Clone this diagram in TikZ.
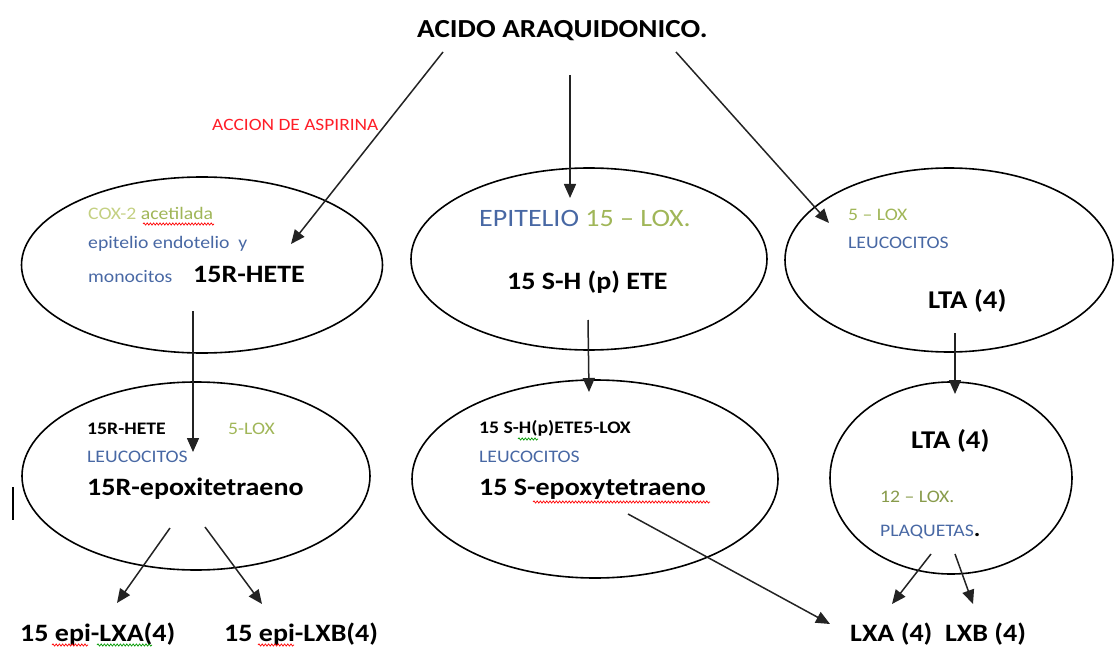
\documentclass[tikz,border=0pt]{standalone}
\usepackage{fontspec}
\setmainfont{Carlito}[FakeStretch=1.12]
\usetikzlibrary{shapes.geometric,arrows.meta,decorations.pathmorphing}
\definecolor{loxgreen}{RGB}{160,182,88}
\definecolor{paleg}{RGB}{196,208,130}
\definecolor{txtblue}{RGB}{72,104,164}
\definecolor{asred}{RGB}{255,30,40}
\definecolor{lncol}{RGB}{35,35,35}
\begin{document}
\begin{tikzpicture}[x=1pt,y=-1pt,
  ell/.style={draw=black,line width=1.6pt,ellipse,inner sep=0pt},
  arr/.style={draw=lncol,line width=1.5pt,-{Triangle[length=14pt,width=12pt]}},
  txt/.style={anchor=base west,inner sep=0pt},
  big/.style={txt,font=\fontsize{25}{28}\selectfont\bfseries},
  sml/.style={txt,font=\fontsize{17.6}{20}\selectfont},
  smb/.style={txt,font=\fontsize{17.6}{20}\selectfont\bfseries},
  squig/.style={line width=0.7pt,decorate,decoration={snake,amplitude=1.1pt,segment length=3.2pt}}
]
\useasboundingbox (0,0) rectangle (1114,647);

% ellipses
\node[ell,minimum width=361pt,minimum height=176pt] (e1) at (202,265) {};
\node[ell,minimum width=356pt,minimum height=182pt] (e2) at (589,259) {};
\node[ell,minimum width=328pt,minimum height=184pt] (e3) at (949,260) {};
\node[ell,minimum width=348pt,minimum height=188pt] (e4) at (196,476) {};
\node[ell,minimum width=366pt,minimum height=198pt] (e5) at (595,479) {};
\node[ell,minimum width=242pt,minimum height=192pt] (e6) at (951,478) {};

% title
\node[txt,font=\fontsize{26}{30}\selectfont\bfseries] (title) at (417,38) {ACIDO ARAQUIDONICO.};
\node[txt,font=\fontsize{17.3}{19}\selectfont,text=asred] (asp) at (212,131) {ACCION DE ASPIRINA};

% ellipse 1
\node[sml] (t1a) at (88,220) {\textcolor{paleg}{COX-2} \textcolor{loxgreen}{acetilada}};
\node[sml,text=txtblue] (t1b) at (88,248) {epitelio endotelio\ \ y};
\node[sml,text=txtblue] (t1c) at (88,282) {monocitos};
\node[big] (t1d) at (193,283) {15R-HETE};

% ellipse 2
\node[txt,font=\fontsize{25}{28}\selectfont] (t2a) at (479,227) {\textcolor{txtblue}{EPITELIO} \textcolor{loxgreen}{15 – LOX.}};
\node[big] (t2b) at (507,290) {15 S-H (p) ETE};

% ellipse 3
\node[sml,text=loxgreen] (t3a) at (848,221) {5 – LOX};
\node[sml,text=txtblue] (t3b) at (848,248) {LEUCOCITOS};
\node[big,font=\fontsize{25.6}{28}\selectfont\bfseries] (t3c) at (928,308) {LTA (4)};

% ellipse 4
\node[smb] (t4a) at (87,434) {15R-HETE};
\node[sml,text=loxgreen] (t4b) at (228,434) {5-LOX};
\node[sml,text=txtblue] (t4c) at (87,462) {LEUCOCITOS};
\node[big] (t4d) at (87,495) {15R-epoxitetraeno};

% ellipse 5
\node[smb] (t5a) at (479,433) {15 S-H(p)ETE5-LOX};
\node[sml,text=txtblue] (t5b) at (479,462) {LEUCOCITOS};
\node[big] (t5c) at (479,495) {15 S-epoxytetraeno};

% ellipse 6
\node[big,font=\fontsize{25.6}{28}\selectfont\bfseries] (t6a) at (911,448) {LTA (4)};
\node[sml,text=loxgreen!85!black] (t6b) at (880,502) {12 – LOX.};
\node[sml,text=txtblue] (t6c) at (880,536) {PLAQUETAS\textcolor{black}{\bfseries\fontsize{22}{24}\selectfont.}};

% bottom products
\node[big] (p1) at (20,641) {15 epi-LXA(4)};
\node[big] (p2) at (224,641) {15 epi-LXB(4)};
\node[big] (p3) at (850,641) {LXA (4)\ \ LXB (4)};

% cursor bar
\draw[line width=2.5pt] (13,487) -- (13,520);

% spell-check underlines
\draw[squig,red] (143,224) -- (214,224);
\draw[squig,green!60!black] (518,439) -- (538,439);
\draw[squig,red] (533,502) -- (710,502);
\draw[squig,red] (52,645) -- (88,645);
\draw[squig,green!60!black] (97,645) -- (152,645);
\draw[squig,red] (258,645) -- (294,645);

% connector coordinates
\coordinate (a1s) at (443,52);  \coordinate (a1e) at (291,244);
\coordinate (a2s) at (570,75);  \coordinate (a2e) at (570,198);
\coordinate (a3s) at (676,52);  \coordinate (a3e) at (829,223);
\coordinate (b1s) at (193,311); \coordinate (b1e) at (193,452);
\coordinate (b2s) at (588,320); \coordinate (b2e) at (589,392);
\coordinate (b3s) at (955,333); \coordinate (b3e) at (955,394);
\coordinate (c1s) at (170,528); \coordinate (c1e) at (117,603);
\coordinate (c2s) at (205,527); \coordinate (c2e) at (262,604);
\coordinate (c3s) at (628,514); \coordinate (c3e) at (830,624);
\coordinate (c4s) at (931,554); \coordinate (c4e) at (892,604);
\coordinate (c5s) at (955,554); \coordinate (c5e) at (973,604);

\draw[arr] (a1s) -- (a1e);
\draw[arr] (a2s) -- (a2e);
\draw[arr] (a3s) -- (a3e);
\draw[arr] (b1s) -- (b1e);
\draw[arr] (b2s) -- (b2e);
\draw[arr] (b3s) -- (b3e);
\draw[arr] (c1s) -- (c1e);
\draw[arr] (c2s) -- (c2e);
\draw[arr] (c3s) -- (c3e);
\draw[arr] (c4s) -- (c4e);
\draw[arr] (c5s) -- (c5e);
\end{tikzpicture}
\end{document}
